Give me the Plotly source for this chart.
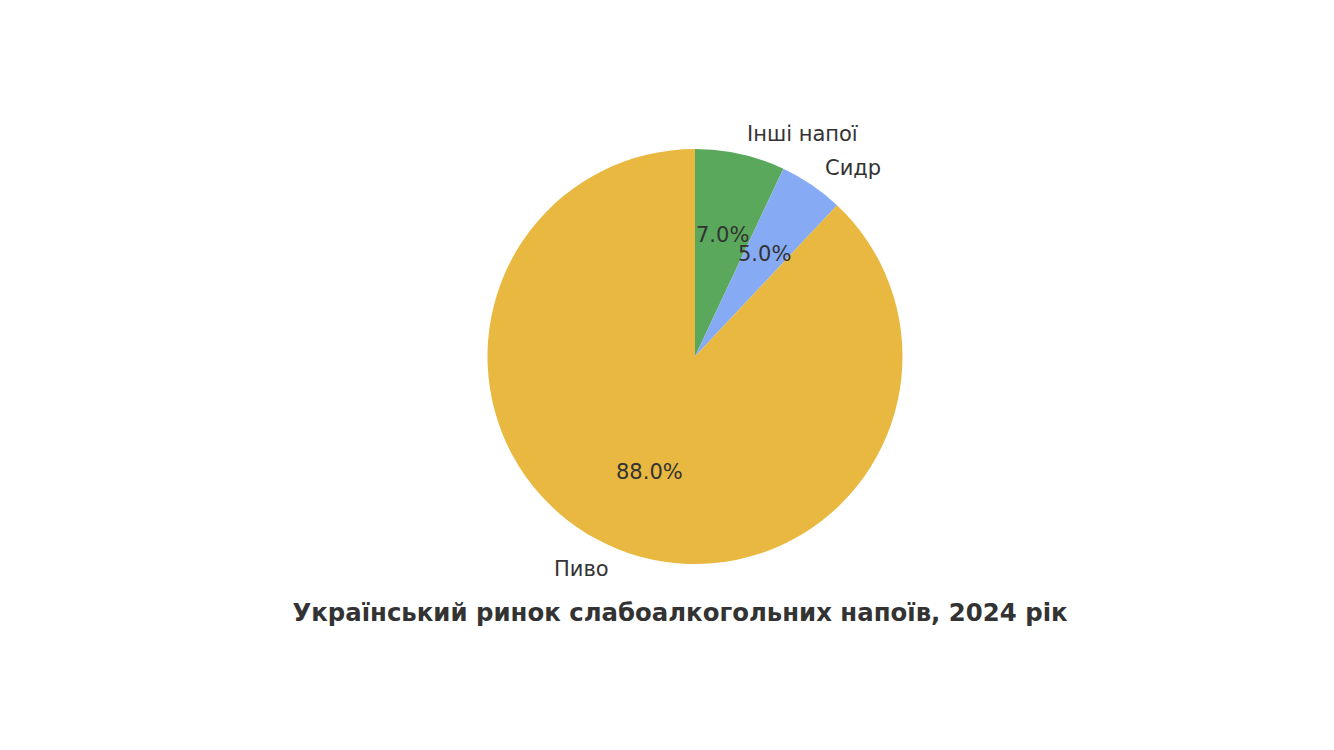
import numpy as np
import plotly.graph_objects as go

# market shares, % (clockwise from 12 o'clock)
labels = ["Інші напої", "Сидр", "Пиво"]
shares = [7.0, 5.0, 88.0]
colors = ["#5aa85c", "#86aaf3", "#e9b840"]
title = "Український ринок слабоалкогольних напоїв, 2024 рік"

W, H = 1334, 750
off = 8  # page body margin
cx, cy, r = 695 - off, 356.5 - off, 207.5  # pie centre / radius in px
dom_x = [(cx - r) / W, (cx + r) / W]
dom_y = [(H - cy - r) / H, (H - cy + r) / H]
k = 1.3  # overlay axes span k*r so outer labels stay in range
ax_x = [(cx - k * r) / W, (cx + k * r) / W]
ax_y = [(H - cy - k * r) / H, (H - cy + k * r) / H]

# mid angle of every wedge, clockwise from 12 o'clock
vals = np.array(shares)
frac = vals / vals.sum()
mid = np.deg2rad(90 - 360 * (np.cumsum(frac) - frac / 2))
ux, uy = np.cos(mid), np.sin(mid)

fig = go.Figure()
fig.add_trace(go.Pie(
    labels=labels, values=shares, sort=False, direction="clockwise",
    rotation=0, marker=dict(colors=colors, line=dict(width=0)),
    textinfo="none", hoverinfo="label+percent", showlegend=False,
    domain=dict(x=dom_x, y=dom_y),
))

font = dict(family="DejaVu Sans", size=21, color="#333333")
pct = [f"{v:.1f}%" for v in frac * 100]

annotations = []
for x, y, t in zip(0.6 * ux, 0.6 * uy, pct):
    annotations.append(dict(x=x, y=y, xref="x", yref="y", text=t, showarrow=False,
                            xanchor="center", yanchor="middle", font=font))
for x, y, t in zip(1.1 * ux, 1.1 * uy, labels):
    annotations.append(dict(x=x, y=y, xref="x", yref="y", text=t, showarrow=False,
                            xanchor="left" if x >= 0 else "right", yanchor="middle",
                            font=font))

fig.update_xaxes(domain=ax_x, range=[-k, k], visible=False, fixedrange=True)
fig.update_yaxes(domain=ax_y, range=[-k, k], visible=False, fixedrange=True)

fig.update_layout(
    width=W, height=H,
    margin=dict(l=0, r=0, t=0, b=0),
    paper_bgcolor="white", plot_bgcolor="rgba(0,0,0,0)",
    annotations=annotations,
    title=dict(text=f"<b>{title}</b>", x=(680 - off) / W, xanchor="center",
               y=1 - (612 - off) / H, yanchor="middle",
               font=dict(family="DejaVu Sans", size=24.4, color="#333333")),
)

fig.write_html("out.html")
